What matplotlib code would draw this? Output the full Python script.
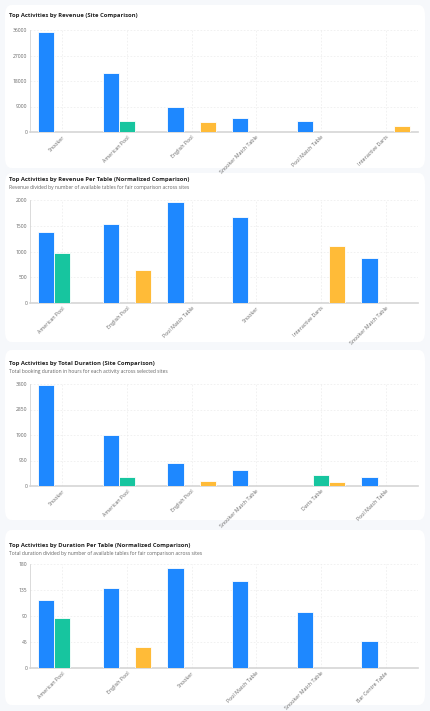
import matplotlib
matplotlib.use("Agg")
import matplotlib.pyplot as plt
from matplotlib.patches import FancyBboxPatch
import numpy as np

plt.rcParams["font.family"] = ["Open Sans", "DejaVu Sans"]

SERIES_COLORS = ["#1e88ff", "#17c59f", "#ffbb38"]

# --- data -------------------------------------------------------------------
rev_cats = ["Snooker", "American Pool", "English Pool", "Snooker Match Table", "Pool Match Table", "Interactive Darts"]
rev_a = [35200, 20700, 9000, 5000, 4000, 0]
rev_b = [0, 4000, 0, 0, 0, 0]
rev_c = [0, 0, 3400, 0, 0, 2200]

rpt_cats = ["American Pool", "English Pool", "Pool Match Table", "Snooker", "Interactive Darts", "Snooker Match Table"]
rpt_a = [1380, 1530, 1960, 1670, 0, 880]
rpt_b = [980, 0, 0, 0, 0, 0]
rpt_c = [0, 650, 0, 0, 1100, 0]

dur_cats = ["Snooker", "American Pool", "English Pool", "Snooker Match Table", "Darts Table", "Pool Match Table"]
dur_a = [3750, 1900, 850, 600, 0, 320]
dur_b = [0, 330, 0, 0, 400, 0]
dur_c = [0, 0, 180, 0, 150, 0]

dpt_cats = ["American Pool", "English Pool", "Snooker", "Pool Match Table", "Snooker Match Table", "Bar Centre Table"]
dpt_a = [117, 138, 173, 150, 97, 47]
dpt_b = [86, 0, 0, 0, 0, 0]
dpt_c = [0, 36, 0, 0, 0, 0]

panels = [
    ("Top Activities by Revenue (Site Comparison)", None,
     rev_cats, [rev_a, rev_b, rev_c], [0, 9000, 18000, 27000, 36000]),
    ("Top Activities by Revenue Per Table (Normalized Comparison)",
     "Revenue divided by number of available tables for fair comparison across sites",
     rpt_cats, [rpt_a, rpt_b, rpt_c], [0, 500, 1000, 1500, 2000]),
    ("Top Activities by Total Duration (Site Comparison)",
     "Total booking duration in hours for each activity across selected sites",
     dur_cats, [dur_a, dur_b, dur_c], [0, 950, 1900, 2850, 3800]),
    ("Top Activities by Duration Per Table (Normalized Comparison)",
     "Total duration divided by number of available tables for fair comparison across sites",
     dpt_cats, [dpt_a, dpt_b, dpt_c], [0, 45, 90, 135, 180]),
]

# pixel layout
W, H = 430, 711
axes_px = [(30, 132), (200, 303), (384, 486), (564, 668)]
cards_px = [(5, 168), (173, 342), (350, 520), (530, 705)]
title_px = [16, 180, 363, 546]

fig = plt.figure(figsize=(W / 100, H / 100), dpi=100)
fig.patch.set_facecolor("#f6f8fb")

for i, (title, sub, cats, series, ticks) in enumerate(panels):
    ct, cb = cards_px[i]
    card = FancyBboxPatch((5 / W, 1 - cb / H), 420 / W, (cb - ct) / H,
                          boxstyle="round,pad=0,rounding_size=0.015",
                          transform=fig.transFigure, facecolor="white",
                          edgecolor="none", zorder=-5)
    fig.add_artist(card)
    ty = title_px[i]
    fig.text(9 / W, 1 - ty / H, title, fontsize=4.2, fontweight="bold", color="#222", va="center")
    if sub:
        fig.text(9 / W, 1 - (ty + 8) / H, sub, fontsize=3.6, color="#666", va="center")

    top, bot = axes_px[i]
    ax = fig.add_axes([30 / W, 1 - bot / H, 388 / W, (bot - top) / H])
    ax.set_zorder(2)
    ax.set_facecolor("white")
    x = np.arange(len(cats))
    for k, vals in enumerate(series):
        ax.bar(x + (k - 1) * 0.25, vals, 0.25, color=SERIES_COLORS[k],
               edgecolor="white", linewidth=0.6, zorder=3)
    ax.set_xlim(-0.5, len(cats) - 0.5)
    ax.set_ylim(0, ticks[-1])
    ax.set_yticks(ticks)
    ax.set_yticklabels([str(t) for t in ticks], fontsize=3.6, color="#666")
    ax.set_xticks(x)
    ax.set_xticklabels(cats, rotation=45, ha="right", rotation_mode="anchor",
                       fontsize=3.8, color="#666")
    ax.tick_params(length=0, pad=2)
    ax.grid(True, color="#e6e6e6", linestyle=(0, (3, 3)), linewidth=0.4, zorder=0)
    for s in ["top", "right"]:
        ax.spines[s].set_visible(False)
    ax.spines["left"].set_color("#cccccc")
    ax.spines["left"].set_linewidth(0.5)
    ax.spines["bottom"].set_color("#d5d5d5")
    ax.spines["bottom"].set_linewidth(1.2)

fig.savefig("out.png", dpi=100)
